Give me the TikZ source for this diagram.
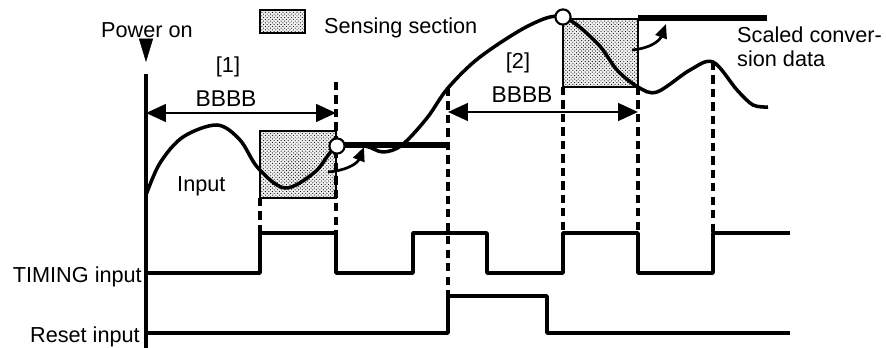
\documentclass[tikz,border=0pt]{standalone}
\usepackage{fontspec}
\setmainfont{Liberation Sans}
\usetikzlibrary{arrows.meta,patterns}

\begin{document}
\begin{tikzpicture}[x=0.03cm,y=-0.03cm,>=Latex,
  sig/.style={line width=3pt,line join=round},
  guide/.style={line width=2.8pt,dash pattern=on 7pt off 4.5pt},
  sense/.style={draw,line width=1.3pt,fill=black!5,postaction={pattern=crosshatch dots}},
  hold/.style={line width=5pt},
  span/.style={line width=2.3pt,{Triangle[length=17pt,width=15pt]}-{Triangle[length=17pt,width=15pt]}},
  bent/.style={line width=2.3pt,-{Triangle[length=12pt,width=10pt]}},
  lbl/.style={inner sep=0pt,font=\fontsize{18.5}{21}\selectfont},
  big/.style={inner sep=0pt,font=\fontsize{19.5}{23}\selectfont},
  dot/.style={circle,draw,fill=white,line width=1.8pt,minimum size=13pt,inner sep=0pt}
]
  \useasboundingbox (0,0) rectangle (886,348);

  % legend and sensing sections
  \draw[sense,line width=2pt] (260,10) rectangle (305,33);
  \node[lbl,anchor=base west] (legend) at (324,34) {Sensing section};
  \draw[sense] (260,131) rectangle (336,198);
  \draw[sense] (563,19) rectangle (638,87);

  % guide lines
  \draw[guide] (260,198) -- (260,233);
  \draw[guide] (336,82)  -- (336,233);
  \draw[guide] (448,88)  -- (448,296);
  \draw[guide] (563,87)  -- (563,233);
  \draw[guide] (638,87)  -- (638,233);
  \draw[guide] (713,62)  -- (713,233);

  % time axis and power on
  \coordinate (axT) at (146,74);
  \coordinate (axB) at (146,348);
  \draw[sig] (axT) -- (axB);
  \coordinate (pwrT) at (146,39);
  \coordinate (pwrB) at (146,62);
  \draw[line width=0.4pt,-{Triangle[length=20pt,width=12pt]}] (pwrT) -- (pwrB);
  \node[lbl,anchor=base] (pwr) at (147,38) {Power on};

  % input
  \draw[sig] plot[smooth,tension=0.55] coordinates {
    (146,195) (160,163) (183,137) (217,125) (240,140) (258,168) (285,188)
    (315,172) (337,146) (365,146) (383,152) (402,145) (427,118) (448,88)
    (480,57) (530,25) (563,17) (597,43) (617,70) (638,87) (657,92)
    (690,70) (713,62) (737,90) (753,105) (768,107)};
  \node[lbl,anchor=base west] (inp) at (177,192) {Input};

  % scaled conversion data
  \coordinate (h1a) at (337,145);
  \coordinate (h1b) at (448,145);
  \coordinate (h2a) at (638,18);
  \coordinate (h2b) at (767,18);
  \draw[hold] (h1a) -- (h1b);
  \draw[hold] (h2a) -- (h2b);
  \node[dot] (s1) at (337,146) {};
  \node[dot] (s2) at (563,17) {};
  \coordinate (b1a) at (328,172);
  \coordinate (b1b) at (364,147);
  \coordinate (b2a) at (632,50);
  \coordinate (b2b) at (666,24);
  \draw[bent] (b1a) .. controls (350,170) and (358,162) .. (b1b);
  \draw[bent] (b2a) .. controls (652,48) and (660,40) .. (b2b);
  \node[lbl,anchor=base west,align=left] (scd) at (737,67) {Scaled conver-\\sion data};

  % conversion periods
  \coordinate (p1a) at (146,113);
  \coordinate (p1b) at (336,113);
  \coordinate (p2a) at (448,112);
  \coordinate (p2b) at (638,112);
  \draw[span] (p1a) -- (p1b);
  \draw[span] (p2a) -- (p2b);
  \node[lbl,anchor=base] (n1) at (228,73) {[1]};
  \node[big,anchor=base] (t1) at (226,107) {BBBB};
  \node[lbl,anchor=base] (n2) at (518,69) {[2]};
  \node[big,anchor=base] (t2) at (522,103) {BBBB};

  % timing and reset
  \draw[sig] (146,273) -- (260,273) -- (260,233) -- (336,233) -- (336,273)
    -- (413,273) -- (413,233) -- (487,233) -- (487,273) -- (563,273)
    -- (563,233) -- (638,233) -- (638,273) -- (713,273) -- (713,233) -- (790,233);
  \draw[sig] (146,333) -- (448,333) -- (448,296) -- (547,296) -- (547,333) -- (790,333);
  \node[lbl,anchor=base east] (tim) at (142,283) {TIMING input};
  \node[lbl,anchor=base east] (rst) at (140,343) {Reset input};
\end{tikzpicture}
\end{document}
